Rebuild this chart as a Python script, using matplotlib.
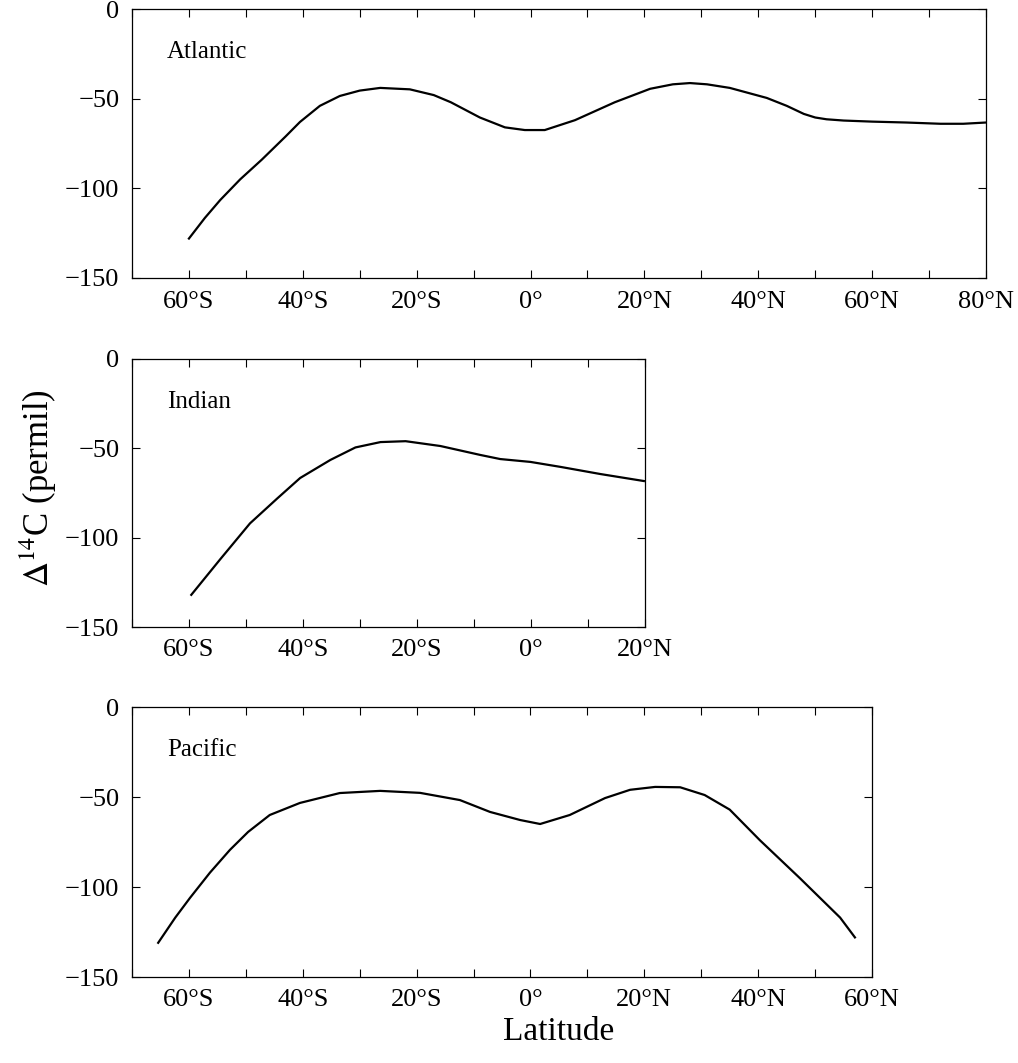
import matplotlib
matplotlib.use("Agg")
import matplotlib.pyplot as plt
from matplotlib.ticker import FuncFormatter, MultipleLocator

plt.rcParams["font.family"] = ["Liberation Serif", "DejaVu Serif"]
plt.rcParams["mathtext.fontset"] = "stix"

# latitude (deg, negative = south) and Delta14C (permil)
atl_lat = [-60, -57.2, -54.5, -51, -47.2, -43, -40.5, -37, -33.5, -30, -26.4, -21.2,
           -17, -14, -8.9, -4.5, -1, 2.5, 7.8, 14.8, 21, 25, 28, 31, 35, 41.5, 45,
           48, 50, 52, 55, 60, 66, 72, 76, 80]
atl_val = [-128, -116.5, -106.5, -95, -84, -71, -63, -54, -48.5, -45.5, -44, -44.8,
           -48, -52, -60.5, -66, -67.5, -67.5, -62, -52, -44.5, -42, -41.3, -42, -44, -49.6, -54,
           -58.5, -60.5, -61.5, -62.2, -62.8, -63.3, -64, -64, -63.3]

ind_lat = [-59.6, -54.5, -49.3, -44.5, -40.5, -35.2, -30.8, -26.4, -22, -15.9, -8.9,
           -5.4, -0.1, 5.2, 12.2, 19.8]
ind_val = [-132, -112, -92, -78, -66.6, -56.5, -49.5, -46.5, -46, -48.7, -53.7,
           -56, -57.6, -60.4, -64.4, -68.3]

pac_lat = [-65.4, -62.4, -59.8, -56.3, -52.8, -49.6, -45.8, -40.5, -33.5, -26.4, -19.4,
           -12.4, -7.1, -1.8, 1.7, 6.9, 13.1, 17.5, 21.9, 26.3, 30.6, 35, 40.3, 47.3,
           54.4, 57]
pac_val = [-131, -117, -106, -92, -79.4, -69.4, -60, -53.3, -47.8, -46.6, -47.7,
           -51.7, -58.3, -62.8, -65, -60, -50.6, -46, -44.4, -44.6, -48.9, -57, -74, -95,
           -117, -128]

yticks = [0, -50, -100, -150]

W, H = 1018, 1063
fig = plt.figure(figsize=(W / 100, H / 100), dpi=100)


def latfmt(v, pos):
    v = int(round(v))
    if v < 0:
        return f"{-v}°S"
    if v > 0:
        return f"{v}°N"
    return "0°"


def panel(left, top, right, bottom, xmax, lat, val, name):
    ax = fig.add_axes([left / W, 1 - bottom / H, (right - left) / W, (bottom - top) / H])
    ax.plot(lat, val, color="black", lw=1.6)
    ax.set_xlim(-70, xmax)
    ax.set_ylim(-150, 0)
    ax.set_yticks(yticks)
    ax.xaxis.set_major_locator(MultipleLocator(20))
    ax.xaxis.set_minor_locator(MultipleLocator(10))
    ax.xaxis.set_major_formatter(FuncFormatter(latfmt))
    ax.tick_params(which="both", direction="in", top=True, right=True,
                   length=6, width=0.8, labelsize=19)
    ax.tick_params(axis="x", pad=9)
    ax.tick_params(axis="y", pad=9)
    for s in ax.spines.values():
        s.set_linewidth(0.9)
    ax.annotate(name, xy=(0, 1), xycoords="axes fraction", xytext=(35, -43),
                textcoords="offset pixels", va="center", ha="left", fontsize=18)
    return ax


panel(132, 9, 986, 278, 80, atl_lat, atl_val, "Atlantic")
panel(132, 359, 645, 627, 20, ind_lat, ind_val, "Indian")
panel(132, 707, 872, 977, 60, pac_lat, pac_val, "Pacific")

fig.text(38 / W, 1 - 488 / H, r"$\Delta^{14}$C (permil)", rotation=90,
         ha="center", va="center", fontsize=25)
fig.text(559 / W, 1 - 1032 / H, "Latitude", ha="center", va="center", fontsize=24)

fig.savefig("out.png", dpi=100)
